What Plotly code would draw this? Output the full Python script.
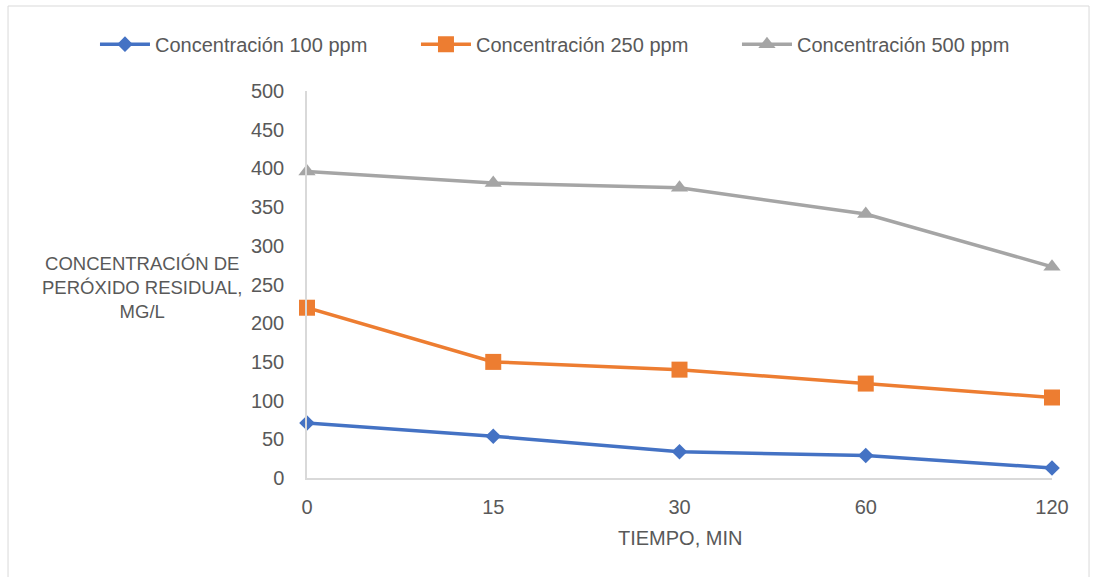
import plotly.graph_objects as go

tiempo = ["0", "15", "30", "60", "120"]
c100 = [71, 54, 34, 29, 13]
c250 = [220, 150, 140, 122, 104]
c500 = [396, 381, 375, 341, 273]

series = [
    ("Concentración 100 ppm", c100, "#4472C4", "diamond", 12),
    ("Concentración 250 ppm", c250, "#ED7D31", "square", 16),
    ("Concentración 500 ppm", c500, "#A5A5A5", "triangle-up", 15),
]

fig = go.Figure()
for name, vals, col, sym, sz in series:
    fig.add_trace(go.Scatter(
        x=list(range(len(tiempo))), y=vals, name=name, mode="lines+markers",
        line=dict(color=col, width=3.5),
        marker=dict(symbol=sym, size=sz, color=col),
        cliponaxis=False,
    ))

fnt = "Liberation Sans, Arial, sans-serif"
fig.update_layout(
    width=1097, height=577,
    margin=dict(l=307, r=45, t=91, b=99),
    paper_bgcolor="white", plot_bgcolor="white",
    font=dict(family=fnt, size=20, color="#595959"),
    showlegend=True,
    legend=dict(orientation="h", x=-0.2846, xanchor="left", y=1.121, yanchor="middle",
                font=dict(size=20, color="#595959"), itemwidth=50,
                entrywidth=256, entrywidthmode="pixels"),
    xaxis=dict(range=[0, 4], tickmode="array", tickvals=list(range(len(tiempo))),
               ticktext=tiempo, showgrid=False, zeroline=False,
               showline=True, linecolor="#D9D9D9", linewidth=1.5,
               ticks="", ticklabelstandoff=10, tickfont=dict(size=20, color="#595959")),
    yaxis=dict(range=[0, 500], dtick=50, showgrid=False, zeroline=False,
               showline=True, linecolor="#D9D9D9", linewidth=1.5,
               ticks="", ticklabelstandoff=17, tickfont=dict(size=20, color="#595959")),
    annotations=[
        dict(text="CONCENTRACIÓN DE<br>PERÓXIDO RESIDUAL,<br>MG/L",
             x=(142 - 307) / 745, y=(478 - 287) / 387,
             xref="paper", yref="paper", xanchor="center", yanchor="middle",
             showarrow=False, align="center",
             font=dict(size=18.5, color="#595959")),
        dict(text="TIEMPO, MIN", x=0.5, y=-(538 - 478) / 387, xref="paper", yref="paper",
             xanchor="center", yanchor="middle",
             showarrow=False, font=dict(size=20, color="#595959")),
    ],
    shapes=[dict(type="rect", xref="paper", yref="paper", x0=-0.4013, x1=1.0497,
                 y0=-0.27, y1=1.2196, line=dict(color="#D9D9D9", width=1))],
)

fig.write_html("out.html")
